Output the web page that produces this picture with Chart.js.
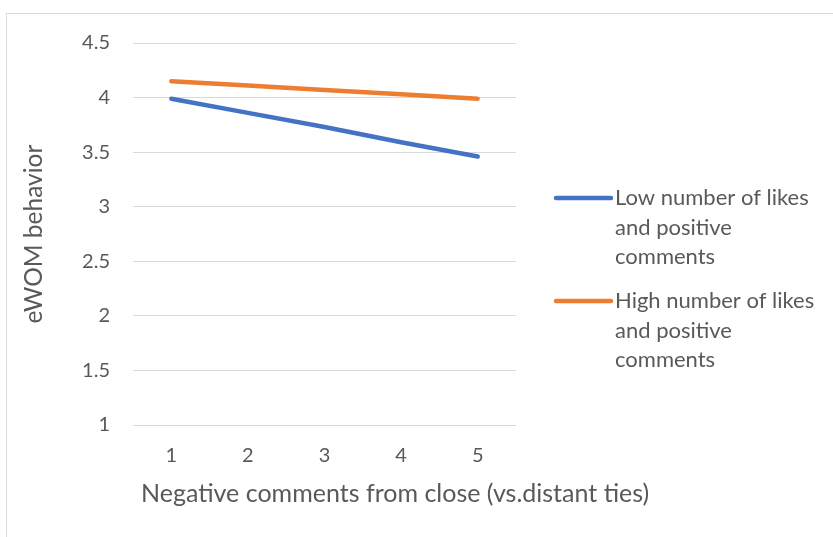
<!DOCTYPE html>
<html><head><meta charset="utf-8">
<script src="https://cdn.jsdelivr.net/npm/chart.js@4.4.0/dist/chart.umd.min.js"></script>
<style>
html,body{margin:0;padding:0;background:#fff;overflow:hidden;width:833px;height:537px}
#frame{position:absolute;left:6px;top:13px;width:900px;height:600px;border:1px solid #d9d9d9;box-sizing:border-box}
#wrap{position:absolute;left:0;top:0;width:833px;height:537px}
</style></head><body>
<div id="frame"></div>
<div id="wrap"><canvas id="c" width="833" height="537"></canvas></div>
<script>
const categories = ['1', '2', '3', '4', '5'];
const lowSeries = [3.99, 3.86, 3.73, 3.59, 3.46];
const highSeries = [4.15, 4.11, 4.07, 4.03, 3.99];
const seriesNames = ['Low number of likes and positive comments', 'High number of likes and positive comments'];
const legendLines = [['Low number of likes', 'and positive', 'comments'], ['High number of likes', 'and positive', 'comments']];
const yMin = 1, yMax = 4.5, yStep = 0.5;
const xTitle = 'Negative comments from close (vs.distant ties)';
const yTitle = 'eWOM behavior';

const TXT = '#595959';
const FONT = 'Lato, "Open Sans", sans-serif';

const legendPlugin = {
  id: 'sideLegend',
  afterDraw(chart) {
    const ctx = chart.ctx;
    const ca = chart.chartArea;
    const x0 = ca.right + 40, x1 = ca.right + 95, tx = ca.right + 99;
    const lh = 29.5;
    const starts = [ca.top + 155, ca.top + 258];
    ctx.save();
    ctx.font = '22px ' + FONT;
    ctx.textBaseline = 'middle';
    ctx.textAlign = 'left';
    chart.data.datasets.forEach((ds, i) => {
      const y = starts[i];
      ctx.strokeStyle = ds.borderColor;
      ctx.lineWidth = 4.5;
      ctx.lineCap = 'round';
      ctx.beginPath(); ctx.moveTo(x0, y); ctx.lineTo(x1, y); ctx.stroke();
      ctx.fillStyle = TXT;
      legendLines[i].forEach((t, k) => ctx.fillText(t, tx, y + k * lh));
    });
    // x-axis title (drawn without width compression, as in the original)
    ctx.font = '25px ' + FONT;
    ctx.fillText(xTitle, ca.left + 8, ca.bottom + 69);
    ctx.restore();
  }
};

new Chart(document.getElementById('c'), {
  type: 'line',
  data: {
    labels: categories,
    datasets: [
      { label: seriesNames[0], data: lowSeries, borderColor: '#4472C4', backgroundColor: '#4472C4', borderWidth: 4.5, pointRadius: 0, tension: 0, borderCapStyle: 'round', borderJoinStyle: 'round' },
      { label: seriesNames[1], data: highSeries, borderColor: '#ED7D31', backgroundColor: '#ED7D31', borderWidth: 4.5, pointRadius: 0, tension: 0, borderCapStyle: 'round', borderJoinStyle: 'round' }
    ]
  },
  options: {
    responsive: false,
    animation: false,
    events: [],
    layout: { padding: { left: 0, right: 317, top: 43, bottom: 0 } },
    plugins: { legend: { display: false }, tooltip: { enabled: false } },
    scales: {
      x: {
        offset: true,
        grid: { display: false, drawTicks: false },
        border: { display: false },
        ticks: { color: TXT, font: { family: FONT, size: 20 }, padding: 19 },
        title: { display: false, text: xTitle },
        afterFit(s) { s.height = 112; }
      },
      y: {
        min: yMin, max: yMax,
        grid: { color: '#d9d9d9', lineWidth: 1, drawTicks: false },
        border: { display: false },
        ticks: { stepSize: yStep, color: TXT, font: { family: FONT, size: 20 }, padding: 23, callback: v => String(v) },
        title: { display: true, text: yTitle, color: TXT, font: { family: FONT, size: 24.5 }, padding: { top: 19, bottom: 0 } },
        afterFit(s) { s.width = 133; }
      }
    }
  },
  plugins: [legendPlugin]
});
</script>
</body></html>
